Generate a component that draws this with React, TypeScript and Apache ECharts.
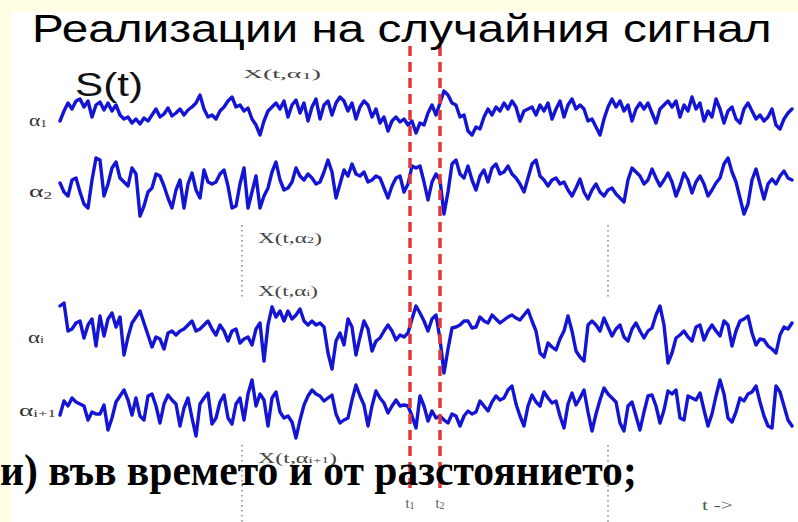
import React, { useEffect, useRef } from "react";
import * as echarts from "echarts";

// Four realizations of the random process, one sample every time step (deviation from the trace's own midline).
const alpha1 = [
  -8, 2, 10, 4, 12, 14, 6, 12, -4, 8,
  11, 3, 10, 2, 8, -2, -6, -4, -10, -6,
  -11, -5, -8, -2, 4, -4, -1, 5, -3, 0,
  4, -2, 3, 6, 10, 18, 4, -4, -2, -6,
  2, 6, 12, 16, 6, 8, 2, 5, -6, -12,
  -22, -8, 2, 6, 10, 4, 12, -4, 8, 13,
  0, 10, -8, 6, 14, -6, 8, 12, -2, 10,
  16, 12, 2, 10, -6, 6, 12, 8, -4, 4,
  -10, -4, -18, -8, -4, -9, -6, -12, -8, -20,
  -10, -12, 0, 8, -2, 10, 22, 18, 10, 8,
  -4, -2, -18, -22, -14, -16, -4, 4, -2, 6,
  2, 10, 4, 12, 6, -8, 2, 4, 6, -2,
  8, 2, 10, -6, 4, 12, -4, 8, 14, 4,
  8, 4, -8, -6, -14, -22, -6, 6, 14, 6,
  12, 2, 8, -8, 4, 10, 4, 10, 0, -10,
  4, 8, 12, 6, 12, -4, 8, 2, 16, 4,
  10, -8, 2, -4, 14, 4, -10, 2, 6, -6,
  -10, 4, 10, 2, -6, -2, -8, -4, 4, -12,
  -16, -6, 0, 4,
];

const alpha2 = [
  3, -6, -10, 6, 8, -6, -18, -22, 6, 28,
  26, -10, 2, 18, 24, 8, 4, 0, 18, 12,
  -30, -20, -6, -2, 12, 10, 0, -12, -22, -4,
  6, -22, 2, 13, -4, -12, 16, 4, 2, 4,
  12, 16, 0, -22, -20, 2, 18, -22, -6, 10,
  -22, -10, -2, 14, 24, 6, -4, -2, 4, 18,
  10, 6, 12, 8, 2, 4, 14, 26, 14, -12,
  2, 16, 10, 22, 12, 10, 14, 4, 6, 10,
  8, -2, -12, 0, 8, 10, -6, 2, 20, 18,
  20, 4, -14, 4, 12, 6, -28, -6, 22, 26,
  12, 8, 20, 6, -4, 10, 16, 4, 18, 22,
  12, 14, 20, 12, 8, 2, -6, 8, 22, 26,
  10, 6, 0, 6, 8, 2, 4, -4, -10, -2,
  7, -6, -13, -4, 2, -6, -10, -4, -2, -8,
  -12, -16, 6, 18, 14, 10, 2, 6, 17, 8,
  0, 6, 13, 4, -10, 0, 13, 6, -7, 4,
  10, 2, -10, -4, 3, 8, 22, 28, 14, 4,
  -12, -28, -18, 6, 17, 2, -13, 2, 7, 2,
  10, 15, 8, 6,
];

const alphaI = [
  27, 30, 2, 4, 10, 12, -5, 8, 14, -13,
  17, -3, 14, 20, 6, 16, -22, -4, 10, 16,
  22, 10, -2, -14, -4, -6, -16, 0, 2, -2,
  2, 4, 8, 12, 2, 4, 8, 12, 4, -2,
  8, 2, -8, 2, 4, -10, -6, -4, -12, 4,
  10, -28, 8, 26, 16, 22, 12, 22, 14, 18,
  24, 12, 8, 12, 8, 10, 6, -20, -36, -8,
  0, -12, 14, 6, -22, -4, 12, 4, -18, -8,
  -5, 2, 8, 2, -7, -2, -4, 0, 14, 27,
  20, 12, 2, 14, 18, -6, -40, -16, 5, 6,
  8, 12, 12, 5, 6, 16, 12, 10, 18, 14,
  10, 13, 16, 18, 15, 13, 18, 23, 12, 2,
  -20, -24, -10, -14, -17, -6, 2, 17, 2, -18,
  -24, -28, 8, 12, 8, 2, 15, 6, -3, 4,
  8, -4, -8, 4, 10, 2, -5, 2, 5, 18,
  27, 8, -30, -20, -5, -2, 2, -4, -8, 6,
  8, -7, 2, 8, 2, -3, 12, 8, -13, 2,
  12, 14, 17, 0, -12, -6, -7, -13, -16, -20,
  -2, 6, 4, 10,
];

const alphaI1 = [
  -7, 7, 2, 10, 6, 4, 2, -12, -4, -6,
  -6, 3, -22, -10, 6, 12, 18, 8, -7, 10,
  -8, -12, 12, 14, 2, -15, 4, 13, 8, 4,
  -18, 0, 10, -10, -28, 4, 10, 15, -16, -10,
  6, 13, -10, -16, 4, 10, -12, 14, 28, 2,
  14, 8, -18, 10, 16, -4, -10, -8, -14, -30,
  -12, 3, 12, 18, 14, 12, 7, 10, 13, -6,
  -15, -12, -10, 8, 23, 12, 3, -18, 2, 17,
  10, 5, -5, 2, 8, 2, 3, 2, -8, -20,
  12, 2, -13, -3, -10, -8, -12, -15, -6, -8,
  -18, -8, -3, -6, -4, 7, 2, -3, 6, 12,
  8, 10, 18, 22, 4, -8, -18, 2, 13, 6,
  2, 16, 10, 5, 7, -8, -20, 4, 15, 3,
  10, 18, -4, -23, -6, 8, 20, 14, 10, 6,
  -15, -23, 2, 6, -8, -22, -4, 12, 13, 2,
  -15, -2, 17, 14, 18, -10, -12, 12, 10, 8,
  15, -2, -18, -6, 12, 28, 14, -10, -14, -4,
  10, 7, 14, 16, 22, 6, -8, -18, -20, 22,
  16, 2, -12, -18,
];

const realizations = [alpha1, alpha2, alphaI, alphaI1];
const realizationSubscripts = ["1", "2", "i", "i+1"];

// Two observation instants t1, t2 (in samples)
const markTimes = [87.5, 95];
const markSubscripts = ["1", "2"];

const TITLE = "Реализации на случайния сигнал";
const BODY_TEXT = "и) във времето и от разстоянието;";

// ---- layout ----
const W = 798;
const H = 522;
const PLOT_LEFT = 60;
const PLOT_WIDTH = 732;
const TRACE_CENTERS = [113, 186, 333, 408];
const HALF_SPAN = 40;

const SERIF = "'Liberation Serif', 'Times New Roman', serif";
const SANS = "'Liberation Sans', Arial, sans-serif";

type Part = [string, boolean]; // text, is subscript

const measureCtx =
  typeof document !== "undefined" ? document.createElement("canvas").getContext("2d") : null;

function measure(parts: Part[], size: number, subSize: number, family: string, weight: string) {
  if (!measureCtx) return 1;
  let w = 0;
  for (const [t, sub] of parts) {
    measureCtx.font = `${weight} ${sub ? subSize : size}px ${family}`;
    w += measureCtx.measureText(t).width;
  }
  return w || 1;
}

function stretchedText(o: {
  parts: Part[];
  x: number;
  y: number;
  width: number;
  size: number;
  subSize?: number;
  family: string;
  weight?: string;
  color: string;
  z?: number;
}) {
  const subSize = o.subSize ?? Math.round(o.size * 0.65);
  const weight = o.weight ?? "normal";
  const natural = measure(o.parts, o.size, subSize, o.family, weight);
  return {
    type: "text",
    x: o.x,
    y: o.y,
    scaleX: o.width / natural,
    z: o.z ?? 10,
    silent: true,
    style: {
      text: o.parts.map(([t, s]) => `{${s ? "s" : "m"}|${t}}`).join(""),
      align: "left",
      verticalAlign: "middle",
      rich: {
        m: {
          fontSize: o.size,
          fontFamily: o.family,
          fontWeight: weight,
          fill: o.color,
          lineHeight: o.size,
        },
        s: {
          fontSize: subSize,
          fontFamily: o.family,
          fontWeight: weight,
          fill: o.color,
          lineHeight: Math.round(subSize * 0.5),
          verticalAlign: "bottom",
        },
      },
    },
  };
}

function dottedLine(x: number, y1: number, y2: number) {
  return {
    type: "line",
    z: 5,
    silent: true,
    shape: { x1: x, y1, x2: x, y2 },
    style: { stroke: "#8c8c8c", lineWidth: 1.6, lineDash: [1.6, 3.4] },
  };
}

export default function App() {
  const ref = useRef<HTMLDivElement>(null);

  useEffect(() => {
    if (!ref.current) return;
    const chart = echarts.init(ref.current, undefined, { renderer: "svg" });
    const n = alpha1.length;

    const grids: any[] = TRACE_CENTERS.map((c) => ({
      left: PLOT_LEFT,
      width: PLOT_WIDTH,
      top: c - HALF_SPAN,
      height: HALF_SPAN * 2,
    }));
    grids.push({ left: PLOT_LEFT, width: PLOT_WIDTH, top: 43, height: 445 });

    const xAxes = grids.map((_, k) => ({
      type: "value",
      gridIndex: k,
      min: 0,
      max: n - 1,
      show: false,
    }));
    const yAxes: any[] = TRACE_CENTERS.map((_, k) => ({
      type: "value",
      gridIndex: k,
      min: -HALF_SPAN,
      max: HALF_SPAN,
      show: false,
    }));
    yAxes.push({ type: "value", gridIndex: 4, min: 0, max: 1, show: false });

    const traceSeries = realizations.map((vals, k) => ({
      type: "line",
      xAxisIndex: k,
      yAxisIndex: k,
      data: vals.map((v, i) => [i, v]),
      symbol: "none",
      silent: true,
      clip: false,
      z: 3,
      lineStyle: { color: "#1414d4", width: 3.4, join: "round", cap: "round" },
    }));

    const markSeries = {
      type: "scatter",
      xAxisIndex: 4,
      yAxisIndex: 4,
      data: markTimes.map((t) => [t, 0]),
      symbolSize: 0,
      silent: true,
      z: 4,
      markLine: {
        silent: true,
        symbol: ["none", "none"],
        lineStyle: { color: "#e0383d", width: 3.5, type: [10, 6], cap: "butt" },
        label: {
          show: true,
          position: "start",
          distance: 8,
          formatter: (p: any) => `{m|t}{s|${p.name}}`,
          rich: {
            m: { fontSize: 14, fontFamily: SERIF, color: "#555", lineHeight: 14 },
            s: { fontSize: 10, fontFamily: SERIF, color: "#555", lineHeight: 5, verticalAlign: "bottom" },
          },
        },
        data: markTimes.map((t, i) => ({ xAxis: t, name: markSubscripts[i] })),
      },
    };

    const alphaLabelBoxes = [
      { x: 29, w: 18, y: 121 },
      { x: 29, w: 23, y: 192 },
      { x: 28, w: 16, y: 337 },
      { x: 19, w: 37, y: 411 },
    ];
    const alphaLabels = realizationSubscripts.map((s, k) =>
      stretchedText({
        parts: [["α", false], [s, true]],
        x: alphaLabelBoxes[k].x,
        y: alphaLabelBoxes[k].y,
        width: alphaLabelBoxes[k].w,
        size: 16,
        subSize: 10,
        family: SERIF,
        color: "#333",
      })
    );

    const xLabelBoxes = [
      { x: 243, w: 78, y: 74, size: 12 },
      { x: 258, w: 64, y: 238, size: 14 },
      { x: 258, w: 60, y: 291, size: 14 },
      { x: 258, w: 79, y: 458, size: 14 },
    ];
    const xLabels = realizationSubscripts.map((s, k) =>
      stretchedText({
        parts: [["X(t,α", false], [s, true], [")", false]],
        x: xLabelBoxes[k].x,
        y: xLabelBoxes[k].y,
        width: xLabelBoxes[k].w,
        size: xLabelBoxes[k].size,
        subSize: 9,
        family: SERIF,
        color: "#444",
      })
    );

    const elements: any[] = [
      // pale slide margin
      { type: "rect", z: 0, silent: true, shape: { x: 0, y: 0, width: W, height: 12 }, style: { fill: "#fffde3" } },
      { type: "rect", z: 0, silent: true, shape: { x: 0, y: 0, width: 12, height: H }, style: { fill: "#fffde3" } },
      stretchedText({ parts: [[TITLE, false]], x: 32, y: 29, width: 740, size: 38, family: SANS, color: "#000" }),
      stretchedText({ parts: [["S(t)", false]], x: 75, y: 84, width: 68, size: 34, family: SANS, color: "#111" }),
      ...alphaLabels,
      ...xLabels,
      dottedLine(242, 225, 300),
      dottedLine(608, 225, 300),
      dottedLine(242, 445, 522),
      dottedLine(608, 445, 522),
      stretchedText({ parts: [["t ->", false]], x: 702, y: 505, width: 31, size: 14, family: SERIF, color: "#555" }),
      stretchedText({
        parts: [[BODY_TEXT, false]],
        x: 0,
        y: 470,
        width: 637,
        size: 44,
        family: SERIF,
        weight: "bold",
        color: "#000",
        z: 20,
      }),
    ];

    chart.setOption({
      animation: false,
      backgroundColor: "#ffffff",
      grid: grids,
      xAxis: xAxes,
      yAxis: yAxes,
      series: [...traceSeries, markSeries],
      graphic: { elements },
    });

    return () => chart.dispose();
  }, []);

  return (
    <div
      ref={ref}
      style={{ position: "absolute", left: 0, top: 0, width: W, height: H }}
    />
  );
}
